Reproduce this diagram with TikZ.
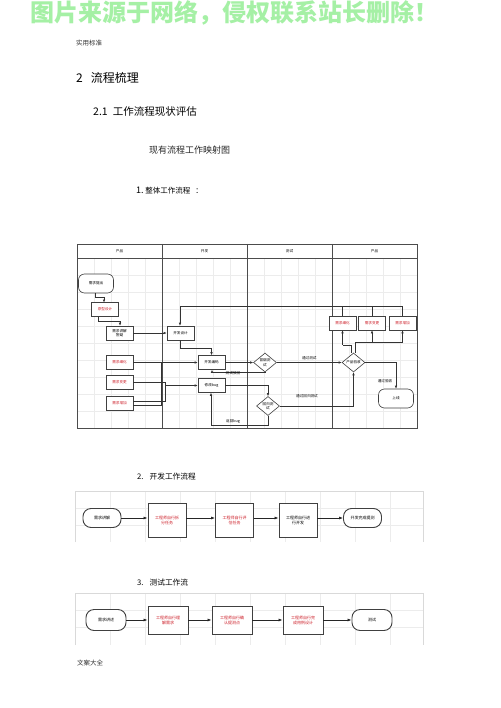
\documentclass[tikz,border=0pt]{standalone}
\usepackage{fontspec}
\setmainfont{Noto Sans CJK SC}
\usetikzlibrary{shapes.geometric,arrows.meta}
\definecolor{wmg}{RGB}{165,240,165}
\definecolor{redtxt}{RGB}{205,30,40}
\begin{document}
\begin{tikzpicture}[x=1pt,y=-1pt,
  bx/.style={draw=black!75, line width=0.6pt, minimum width=27pt, minimum height=14pt, inner sep=0.5pt, align=center, font=\fontsize{3.6}{4.4}\selectfont, fill=white},
  rbx/.style={bx, text=redtxt},
  term/.style={bx, rounded corners=6pt, minimum width=35pt, minimum height=19pt},
  dia/.style={draw=black!75, line width=0.6pt, diamond, aspect=1.2, minimum width=23pt, minimum height=19pt, inner sep=0pt, align=center, font=\fontsize{3.6}{4.4}\selectfont, fill=white},
  arr/.style={-{Latex[length=3pt,width=2.6pt]}, line width=0.6pt, draw=black!80},
  ln/.style={line width=0.6pt, draw=black!80},
  elbl/.style={font=\fontsize{3.6}{4.4}\selectfont, inner sep=0.5pt},
  fbx/.style={draw=black!75, line width=0.9pt, minimum width=38pt, minimum height=34pt, inner sep=1pt, align=center, font=\fontsize{4}{5}\selectfont, fill=white},
  frbx/.style={fbx, text=redtxt},
  fterm/.style={fbx, rounded corners=8pt, minimum height=19pt},
  farr/.style={-{Latex[length=4pt,width=3pt]}, line width=0.7pt, draw=black!85},
  hd/.style={anchor=west, inner sep=0pt}]
\useasboundingbox (0,0) rectangle (500,708);
\clip (0,0) rectangle (500,708);
\fill[white] (0,0) rectangle (500,708);

% watermark
\node[text=wmg, font=\bfseries\fontsize{24}{26}\selectfont, inner sep=0pt, anchor=north] (wm) at (234,0.5) {图片来源于网络，侵权联系站长删除！};

% headings
\node[hd, font=\fontsize{6.5}{7}\selectfont, text=black!80] (h0) at (76,43) {实用标准};
\node[hd, font=\fontsize{12}{13}\selectfont] (h1) at (76,78) {2\hspace{8pt}流程梳理};
\node[hd, font=\fontsize{10.5}{11}\selectfont] (h2) at (93,112) {2.1\hspace{5pt}工作流程现状评估};
\node[hd, font=\fontsize{9}{10}\selectfont, text=black!85] (h3) at (149,150) {现有流程工作映射图};
\node[hd, font=\fontsize{7.5}{8}\selectfont] (h4) at (136,191) {\fontsize{9}{9}\selectfont 1.\fontsize{7.5}{8}\selectfont\ 整体工作流程\hspace{5pt}：};
\node[hd, font=\fontsize{7.7}{8}\selectfont] (h5) at (137,477) {2.\hspace{6pt}开发工作流程};
\node[hd, font=\fontsize{7.7}{8}\selectfont] (h6) at (137,583) {3.\hspace{6pt}测试工作流};
\node[hd, font=\fontsize{6.5}{7}\selectfont, text=black!80] (h7) at (77,663) {文案大全};

% ===== main swimlane diagram =====
\foreach \x in {94,111,128,145,179,196,213,230,264,281,298,315,349,366,383,400}
  \draw[gray!15, line width=0.3pt] (\x,258) -- (\x,428);
\foreach \y in {275,292,309,326,343,360,377,394,411}
  \draw[gray!15, line width=0.3pt] (77,\y) -- (417,\y);
\draw[black!70, line width=0.8pt] (77,244) rectangle (417,428);
\draw[black!70, line width=0.8pt] (77,258) -- (417,258);
\foreach \x in {162,247,332}
  \draw[black!70, line width=0.8pt] (\x,244) -- (\x,428);
\node[elbl] (l1) at (119.5,251) {产品};
\node[elbl] (l2) at (204.5,251) {开发};
\node[elbl] (l3) at (289.5,251) {测试};
\node[elbl] (l4) at (374.5,251) {产品};

\node[term] (tc) at (96,283.5) {需求提出};
\node[rbx] (yx) at (105,309.5) {原型设计};
\node[bx] (jj) at (119.5,333) {需求讲解\\答疑};
\node[bx] (kfsj) at (180.5,333) {开发设计};
\node[rbx] (xh) at (119.5,362.5) {需求细化};
\node[rbx] (bg) at (119.5,382.5) {需求变更};
\node[rbx] (zj) at (119.5,403) {需求增加};
\node[bx] (bm) at (211.5,362.5) {开发编码};
\node[bx] (bug) at (211.5,385.5) {修改bug};
\node[dia] (d1) at (265,362.5) {冒烟测\\试};
\node[dia] (d2) at (268,406) {回归测\\试};
\node[dia] (d3) at (353.5,362.5) {产品验收};
\node[term] (sx) at (396,398.5) {上线};
\node[rbx] (p1) at (342.5,323) {需求细化};
\node[rbx] (p2) at (372,323) {需求变更};
\node[rbx] (p3) at (402.5,323) {需求增加};

\draw[arr] (tc.south -| 95,0) -- (95,297) -- (104,297) -- (104,302.5);
\draw[arr] (yx.south -| 98,0) -- (98,321) -- (120,321) -- (jj.north -| 120,0);
\draw[arr] (jj.east) -- (kfsj.west);
\draw[ln] (p1.north) -- (342.5,306);
\draw[ln] (p2.north) -- (372,306);
\draw[arr] (p3.north) -- (402.5,306) -- (180,306) -- (kfsj.north -| 180,0);
\draw[arr] (kfsj.south) -- (180.5,348) -- (211.5,348) -- (bm.north);
\draw[arr] (xh.east) -- (bm.west);
\draw[ln] (bg.east) -- (165,382.5) -- (165,385.5);
\draw[arr] (zj.east |- 0,401) -- (165,401) -- (165,385.5) -- (bug.west);
\draw[ln] (zj.east |- 0,405.5) -- (161,405.5) -- (161,362.5);
\draw[arr] (bm.east) -- (d1.west);
\draw[arr] (d1.south) -- (265,372.5) -- (212,372.5) -- (bm.south -| 212,0);
\node[elbl, anchor=west] (e1) at (225,373.5) {测试驳回};
\draw[arr] (d1.east) -- (d3.west) node[elbl, midway, above=1.5pt] (e2) {通过测试};
\draw[arr] (bug.east) -- (268,385.5) -- (d2.north);
\draw[arr] (d2.east) -- (353.5,406) -- (d3.south);
\node[elbl] (e3) at (307,396) {通过回归测试};
\draw[arr] (d2.south) -- (268,425) -- (211,425) -- (bug.south -| 211,0);
\node[elbl] (e4) at (233,421) {返回bug};
\draw[arr] (d3.east) -- (396,362.5) -- (sx.north);
\node[elbl] (e5) at (385,381.5) {通过验收};
\draw[ln] (d3.north -| 351,0) -- (351,345) -- (342.5,345);
\draw[arr] (342.5,345) -- (p1.south);
\draw[ln] (d3.north -| 355,0) -- (355,342) -- (402.5,342);
\draw[arr] (372,342) -- (p2.south);
\draw[arr] (402.5,342) -- (p3.south);

% ===== dev flow =====
\foreach \x in {110,145,180,215,250,285,320,355,390}
  \draw[gray!15, line width=0.3pt] (\x,491) -- (\x,542);
\foreach \y in {508,525}
  \draw[gray!15, line width=0.3pt] (75,\y) -- (423,\y);
\draw[gray!30, line width=0.5pt] (75,542) -- (75,491) -- (423,491) -- (423,542);
\node[fterm] (a0) at (102,518) {需求讲解};
\node[frbx] (a1) at (167,520) {工程师自行拆\\分任务};
\node[frbx] (a2) at (234.5,520) {工程师自行评\\估任务};
\node[fbx] (a3) at (298,520) {工程师自行进\\行开发};
\node[fterm] (a4) at (362.5,518) {开发完成提测};
\draw[farr] (a0.east) -- (a1.west |- a0.east);
\draw[farr] (a1.east |- a0.east) -- (a2.west |- a0.east);
\draw[farr] (a2.east |- a0.east) -- (a3.west |- a0.east);
\draw[farr] (a3.east |- a0.east) -- (a4.west);

% ===== test flow =====
\foreach \x in {110,145,180,215,250,285,320,355,390}
  \draw[gray!15, line width=0.3pt] (\x,593) -- (\x,645);
\foreach \y in {610,627}
  \draw[gray!15, line width=0.3pt] (75,\y) -- (423,\y);
\draw[gray!30, line width=0.5pt] (75,645) -- (75,593) -- (423,593) -- (423,645);
\node[fterm, minimum width=40pt, minimum height=21pt] (b0) at (106,620) {需求讲述};
\node[frbx, minimum width=40pt, minimum height=28pt] (b1) at (168,620) {工程师自行理\\解需求};
\node[frbx, minimum width=40pt, minimum height=28pt] (b2) at (232,620) {工程师自行确\\认提测点};
\node[frbx, minimum width=40pt, minimum height=28pt] (b3) at (303,620) {工程师自行完\\成用例设计};
\node[fterm, minimum width=40pt, minimum height=21pt] (b4) at (372,620) {测试};
\draw[farr] (b0.east) -- (b1.west);
\draw[farr] (b1.east) -- (b2.west);
\draw[farr] (b2.east) -- (b3.west);
\draw[farr] (b3.east) -- (b4.west);
\end{tikzpicture}
\end{document}
